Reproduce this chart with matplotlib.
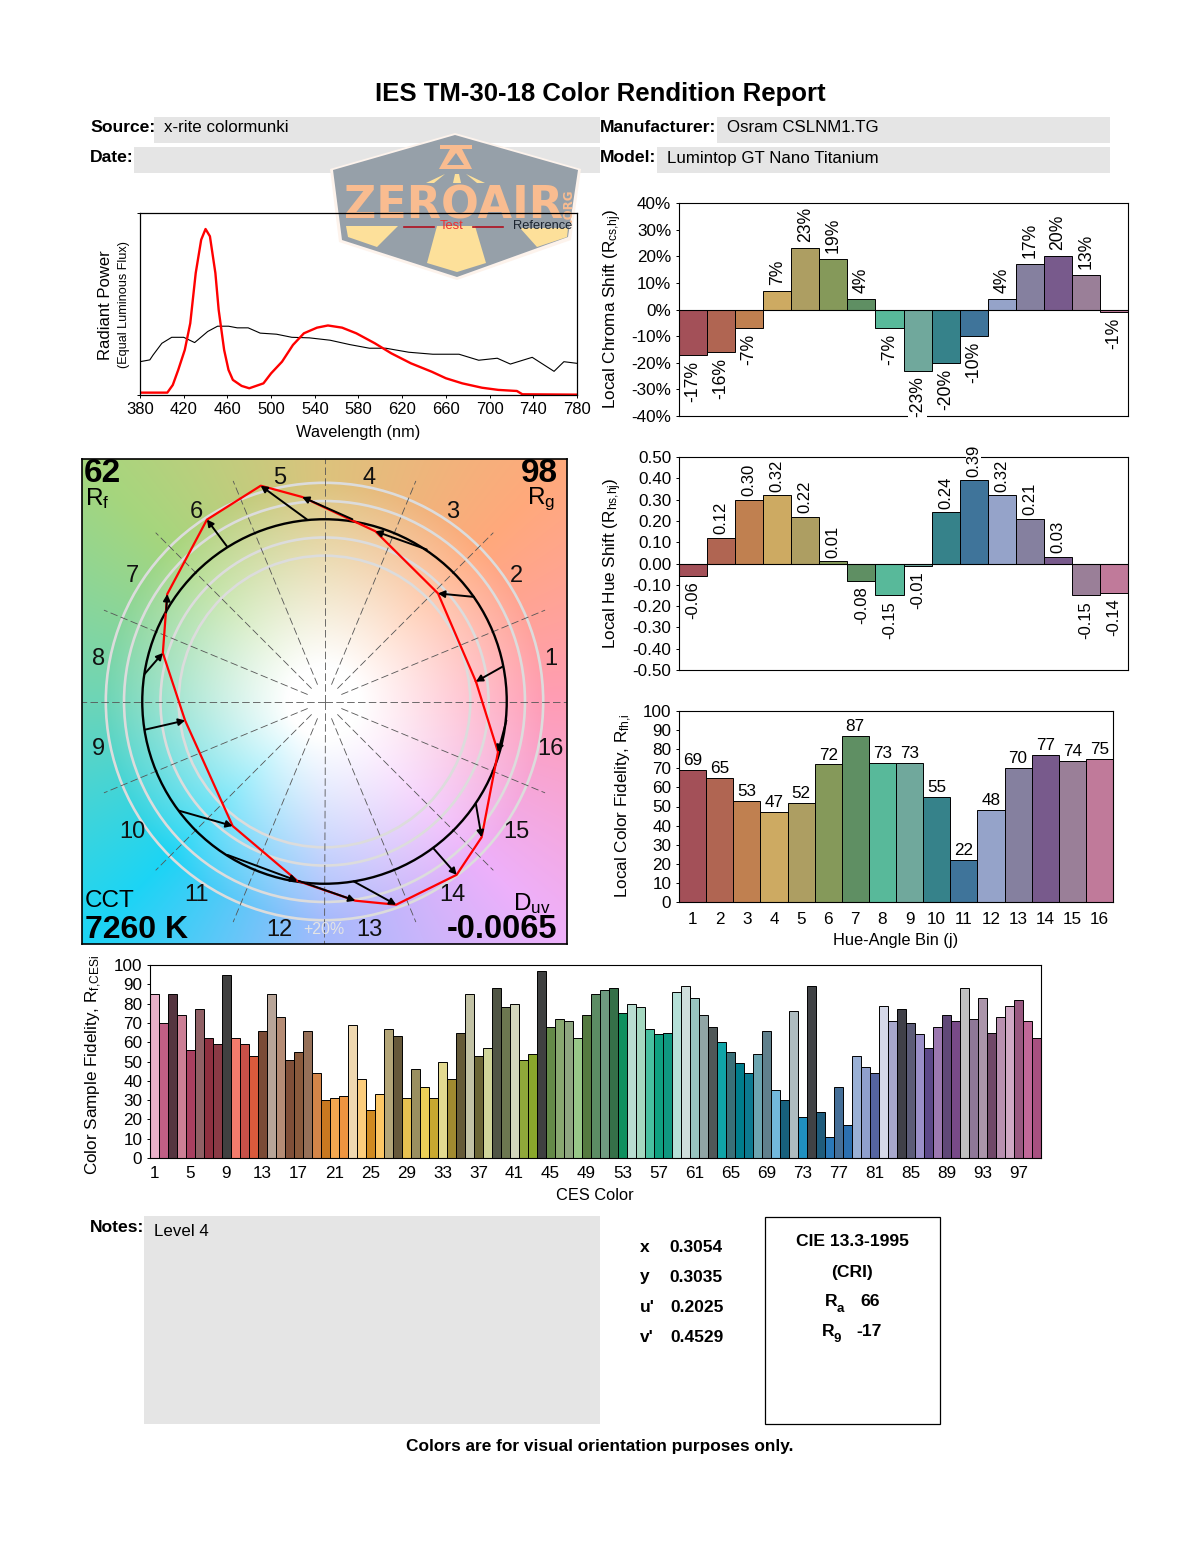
import numpy as np
import matplotlib
matplotlib.use("Agg")
import matplotlib.pyplot as plt
from matplotlib.patches import Polygon, Rectangle, Circle

plt.rcParams['font.family'] = ['Liberation Sans', 'DejaVu Sans']
plt.rcParams['mathtext.fontset'] = 'custom'
plt.rcParams['mathtext.rm'] = 'Liberation Sans'
plt.rcParams['mathtext.default'] = 'rm'
plt.rcParams['axes.linewidth'] = 0.8

# spectrum
test_wl = [380, 405, 410, 415, 421, 426, 431, 436, 440, 444, 449, 452, 457, 461, 465, 473, 480, 493, 500, 510,
           520, 530, 542, 552, 565, 578, 595, 610, 628, 647, 660, 675, 693, 708, 725, 730, 780]
test_val = [1.3, 1.3, 5.5, 13.8, 24.8, 39.4, 67, 85.3, 91.2, 87.2, 67, 46.8, 24.8, 13.8, 8.3, 5, 3.7, 6.4, 11.9, 18.3,
            27.5, 33.9, 37, 38.2, 37, 33.9, 28.4, 22.9, 17.4, 12.8, 9.2, 6.4, 4, 2.8, 2.2, 0.4, 0.2]
ref_wl = [380, 389, 392, 400, 409, 420, 430, 442, 451, 461, 469, 479, 490, 505, 519, 535, 554, 572, 590, 605,
          626, 648, 672, 690, 707, 719, 739, 759, 768, 780]
ref_val = [18.3, 19.3, 22, 28.4, 31.7, 31.7, 28.8, 34.9, 37.8, 37.8, 36.9, 36.9, 34, 33.4, 31.7, 31.4, 30.1, 27.7, 25.7, 25.7,
           23.5, 22.4, 22.4, 19.1, 20.2, 17, 20.7, 13, 18.3, 17.4]

# hue bins
bins = list(range(1, 17))
bin_colors = ['#a35058', '#b06552', '#c08050', '#cdaa62', '#ad9e62', '#85995a', '#5f8f63', '#58b99a',
              '#70a89c', '#36828a', '#3f749a', '#95a3c9', '#85809f', '#785a8c', '#9a7f98', '#c07a9a']
chroma = [-17, -16, -7, 7, 23, 19, 4, -7, -23, -20, -10, 4, 17, 20, 13, -1]
hue_shift = [-0.06, 0.12, 0.30, 0.32, 0.22, 0.01, -0.08, -0.15, -0.01, 0.24, 0.39, 0.32, 0.21, 0.03, -0.15, -0.14]
fidelity = [69, 65, 53, 47, 52, 72, 87, 73, 73, 55, 22, 48, 70, 77, 74, 75]

# vector graphic, reference circle has radius 1
ref_x = [0.980, 0.820, 0.561, 0.153, -0.095, -0.536, -0.869, -0.987, -0.987, -0.799, -0.532, -0.142, 0.160, 0.597, 0.831, 0.998]
ref_y = [0.193, 0.574, 0.834, 1.000, 0.998, 0.852, 0.488, 0.151, -0.155, -0.599, -0.842, -0.984, -0.987, -0.805, -0.564, -0.104]
test_x = [0.831, 0.623, 0.279, -0.122, -0.350, -0.645, -0.863, -0.887, -0.765, -0.504, -0.149, 0.169, 0.393, 0.725, 0.862, 0.952]
test_y = [0.109, 0.593, 0.934, 1.122, 1.184, 0.998, 0.589, 0.266, -0.104, -0.683, -0.984, -1.093, -1.115, -0.951, -0.745, -0.277]
bg_angles = [0, 45, 90, 135, 180, 225, 270, 315, 360]
bg_colors = ['#ff9db5', '#ffa97b', '#dcc37d', '#a6d67d', '#6dd5b7', '#1cd4f5', '#a5bafc', '#eeb0fa', '#ff9db5']

# CES samples
ces = [85, 70, 85, 74, 56, 77, 62, 59, 95, 62, 59, 53, 66, 85, 73, 51, 55, 66, 44, 30, 31, 32, 69, 41, 25,
       33, 67, 63, 31, 46, 37, 31, 50, 41, 65, 85, 53, 57, 88, 78, 80, 51, 54, 97, 68, 72, 71, 62, 74, 85,
       87, 88, 75, 80, 78, 67, 64, 65, 86, 89, 83, 74, 68, 60, 55, 49, 44, 54, 66, 35, 30, 76, 21, 89, 24,
       11, 37, 17, 53, 47, 44, 79, 71, 77, 70, 64, 57, 68, 74, 71, 88, 72, 83, 65, 73, 79, 82, 71, 62]
ces_colors = ['#e8b0c8', '#c05f85', '#553540', '#cc7f95', '#a84060', '#906065', '#8e3040', '#8a3a45', '#404040', '#f47c6c',
              '#c75048', '#d95a3c', '#7a4a35', '#b8a598', '#b58c75', '#804f38', '#8a5a3c', '#967058', '#d48548', '#c87820',
              '#f4a850', '#ee9540', '#efd8b0', '#fccd7c', '#d08a20', '#fcc765', '#b3a578', '#66583a', '#e6c050', '#9a8f60',
              '#ecd058', '#c8a830', '#e3da90', '#a08a30', '#655a38', '#c2c2a5', '#6a6535', '#d0d59a', '#505545', '#6c7750',
              '#d3d6bc', '#8fa83a', '#8aa82c', '#3f4040', '#648a48', '#88a870', '#8ea680', '#98c888', '#557a40', '#5c8c64',
              '#6f9a80', '#357048', '#0f905e', '#b8ddd0', '#a5d8c0', '#48c0a0', '#0fa080', '#0f9880', '#b5e0d8', '#cfdedc',
              '#98c5c0', '#90a5a5', '#505858', '#10a5a8', '#3a7078', '#007d8c', '#0c7a90', '#6ca5b0', '#60808c', '#72b8dc',
              '#17607c', '#aebcc0', '#2090c0', '#404245', '#1f5c7c', '#2a78b8', '#456f98', '#2c70b0', '#9ab0d5', '#8f9fcc',
              '#5565a0', '#d5d8e8', '#a8a8cc', '#404048', '#5c5c78', '#9a8fc8', '#5c4888', '#9c78b0', '#604878', '#784a88',
              '#c0c0c0', '#8f7898', '#ab95aa', '#704868', '#b890b0', '#cfa8c4', '#985880', '#c06898', '#a85080']

W, H = 1200, 1550
fig = plt.figure(figsize=(W / 100, H / 100), dpi=100, facecolor='white')

def box(l, t, r, b):
    return fig.add_axes([l / W, 1 - b / H, (r - l) / W, (b - t) / H], facecolor='none', zorder=2)

def full_page(z):
    a = fig.add_axes([0, 0, 1, 1], facecolor='none', zorder=z)
    a.set_xlim(0, W)
    a.set_ylim(H, 0)
    a.axis('off')
    return a

page = full_page(0)
over = full_page(5)

def txt(x, y, s, size=12.2, weight='normal', ha='left', va='center', **kw):
    # y is the centre of the glyphs, horizontal text needs a small nudge down
    dy = 2 if 'rotation' not in kw else 0
    return over.text(x, y + dy, s, fontsize=size, fontweight=weight, ha=ha, va=va, **kw)

# header boxes
grey = '#e5e5e5'
for l, t, r, b in [(154, 117, 600, 143), (134, 147, 600, 173), (717, 117, 1110, 143), (657, 147, 1110, 173), (144, 1216, 600, 1424)]:
    page.add_patch(Rectangle((l, t), r - l, b - t, color=grey, lw=0))

txt(600, 92, "IES TM-30-18 Color Rendition Report", 18.5, 'bold', ha='center')
txt(90, 126, "Source:", 12.6, 'bold')
txt(90, 156, "Date:", 12.6, 'bold')
txt(600, 126, "Manufacturer:", 12.6, 'bold')
txt(600, 156, "Model:", 12.6, 'bold')
txt(164, 126, "x-rite colormunki")
txt(727, 126, "Osram CSLNM1.TG")
txt(667, 156, "Lumintop GT Nano Titanium")

# logo watermark
page.add_patch(Polygon([(455, 133), (581, 169), (571, 240), (457, 280), (339, 242), (330, 169)], closed=True, color='#fdf3ec', lw=0))
page.add_patch(Polygon([(455, 135), (578, 170), (568, 237), (457, 277), (342, 240), (333, 170)], closed=True, color='#4c647a', alpha=0.58, lw=0))
for pts in [[(346, 226), (398, 226), (377, 247), (348, 237)],
            [(437, 226), (475, 226), (486, 263), (457, 272), (427, 263)],
            [(520, 228), (568, 228), (567, 237), (537, 247)],
            [(426, 183), (445, 174), (434, 183)], [(453, 183), (455, 174), (459, 174), (461, 183)], [(485, 183), (466, 174), (477, 183)]]:
    page.add_patch(Polygon(pts, closed=True, color='#fde09a', lw=0))
page.add_patch(Polygon([(440, 145), (472, 145), (472, 149), (462, 149), (472, 169), (439, 169), (450, 149), (440, 149)], closed=True, color='#f9bc90', lw=0))
page.add_patch(Polygon([(456, 153), (464, 165), (447, 165)], closed=True, color='#8f9ca9', lw=0))
page.text(454, 206, "ZEROAIR", fontsize=32, fontweight='bold', family='DejaVu Sans', color='#f9bc90', ha='center', va='center')
page.text(568, 205, ".ORG", fontsize=8.5, fontweight='bold', family='DejaVu Sans', color='#f9bc90', ha='center', va='center', rotation=90)

# spectrum
ax = box(140, 213, 577, 395)
ax.plot(ref_wl, ref_val, color='black', lw=0.8)
ax.plot(test_wl, test_val, color='red', lw=1.7)
ax.set_xlim(380, 780)
ax.set_ylim(0, 100)
ax.set_xticks(list(range(380, 781, 40)))
ax.set_yticks([0, 100])
ax.set_yticklabels([])
ax.tick_params(axis='x', labelsize=12, length=2, width=0.7, pad=3)
ax.tick_params(axis='y', length=2, width=0.7)
for s in ['bottom', 'top', 'left', 'right']:
    ax.spines[s].set_linewidth(0.9)
ax.plot([0.605, 0.673], [0.922, 0.922], transform=ax.transAxes, color='#b01020', lw=1.2)
ax.plot([0.762, 0.83], [0.922, 0.922], transform=ax.transAxes, color='#b01020', lw=1.2)
txt(440, 224, "Test", 9.3, color='#ee3030')
txt(513, 224, "Reference", 9.3, color='#1c2530')
txt(106, 305, "Radiant Power", 12, ha='center', rotation=90)
txt(124, 304, "(Equal Luminous Flux)", 9.1, ha='center', rotation=90)
txt(358, 431, "Wavelength (nm)", 11.8, ha='center')

# vector graphic
ax = box(81, 459, 568, 944)
lim = 243.5 / 183
grid = np.linspace(-lim, lim, 400)
gx, gy = np.meshgrid(grid, grid)
ang = np.degrees(np.arctan2(gy, gx)) % 360
rad = np.hypot(gx, gy)
rgb = np.array([matplotlib.colors.to_rgb(c) for c in bg_colors])
img = np.dstack([np.interp(ang, bg_angles, rgb[:, i]) for i in range(3)])
blend = np.clip((rad - 0.2) / 1.0, 0, 1)[:, :, None]
ax.imshow(1 - blend * (1 - img), extent=[-lim, lim, -lim, lim], origin='lower', interpolation='bilinear', zorder=0)
for r in [0.8, 0.9, 1.1, 1.2]:
    ax.add_patch(Circle((0, 0), r, fill=False, ec='#dcdcdc', lw=1.9, zorder=1))
for a in np.arange(0, 360, 22.5):
    t = np.radians(a)
    r0, r1 = (0, lim) if a % 90 == 0 else (0.1, 1.31)
    ax.plot([r0 * np.cos(t), r1 * np.cos(t)], [r0 * np.sin(t), r1 * np.sin(t)], color='#555555', lw=0.6, dashes=(9, 4), zorder=2)
ax.add_patch(Circle((0, 0), 1, fill=False, ec='black', lw=1.7, zorder=3))
ax.plot(test_x + test_x[:1], test_y + test_y[:1], color='red', lw=1.6, zorder=4)
for x0, y0, x1, y1 in zip(ref_x, ref_y, test_x, test_y):
    ax.annotate('', xy=(x1, y1), xytext=(x0, y0), zorder=5,
                arrowprops=dict(arrowstyle='-|>,head_width=0.17,head_length=0.32', color='black', lw=1.4, mutation_scale=12, shrinkA=0, shrinkB=0))
for i, b in enumerate(bins):
    t = np.radians(11.25 + 22.5 * i)
    ax.text(1.265 * np.cos(t), 1.265 * np.sin(t) - 0.012, str(b), fontsize=17, ha='center', va='center', color='#111111', zorder=6)
ax.set_xlim(-lim, lim)
ax.set_ylim(-lim, lim)
ax.set_xticks([])
ax.set_yticks([])
for s in ax.spines.values():
    s.set_linewidth(1.2)
txt(84, 472, "62", 24, 'bold')
txt(85, 497, "R$_{\\mathrm{f}}$", 17.5)
txt(558, 472, "98", 24, 'bold', ha='right')
txt(527, 497, "R$_{\\mathrm{g}}$", 17.5)
txt(85, 899, "CCT", 17.5)
txt(85, 928, "7260 K", 23, 'bold')
txt(513, 902, "D$_{\\mathrm{uv}}$", 17.5)
txt(557, 928, "-0.0065", 23.5, 'bold', ha='right')
txt(324, 927, "+20%", 11.5, ha='center', color='#e4e4e4')

# bar panels
def bar_panel(l, t, r, b, values, ylim, yticks, ylabels):
    ax = box(l, t, r, b)
    ax.bar(bins, values, width=1.0, color=bin_colors, edgecolor='black', linewidth=0.7)
    ax.set_xlim(0.5, 16.5)
    ax.set_ylim(*ylim)
    ax.set_yticks(yticks)
    ax.set_yticklabels(ylabels)
    ax.tick_params(axis='y', labelsize=12.3, length=2.5, width=0.7, pad=3)
    return ax

ax = bar_panel(679, 203, 1128, 416, chroma, (-40, 40), list(range(-40, 41, 10)), ["%d%%" % v for v in range(-40, 41, 10)])
ax.axhline(0, color='black', lw=0.8)
ax.set_xticks([])
for x, v in zip(bins, chroma):
    ax.text(x, v + (2.2 if v > 0 else -2.2), "%d%%" % v, rotation=90, fontsize=12.7, ha='center', va='bottom' if v > 0 else 'top',
            zorder=4, bbox=dict(fc='white', ec='none', pad=0.5), clip_on=False)
txt(613, 309, "Local Chroma Shift (R$_{\\mathrm{cs{,}hj}}$)", 12.3, ha='center', rotation=90)

hue_ticks = [round(-0.5 + 0.1 * i, 1) for i in range(11)]
ax = bar_panel(679, 457, 1128, 670, hue_shift, (-0.5, 0.5), hue_ticks, ["%.2f" % v for v in hue_ticks])
ax.axhline(0, color='black', lw=0.8)
ax.set_xticks([])
for x, v in zip(bins, hue_shift):
    ax.text(x, v + (0.018 if v > 0 else -0.025), "%.2f" % v, rotation=90, fontsize=12, ha='center', va='bottom' if v > 0 else 'top',
            zorder=4, bbox=dict(fc='white', ec='none', pad=0), clip_on=False)
txt(613, 563, "Local Hue Shift (R$_{\\mathrm{hs{,}hj}}$)", 12.3, ha='center', rotation=90)

ax = bar_panel(679, 711, 1113, 902, fidelity, (0, 100), list(range(0, 101, 10)), [str(v) for v in range(0, 101, 10)])
ax.set_xticks(bins)
ax.tick_params(axis='x', labelsize=12.3, length=0, pad=7)
for x, v in zip(bins, fidelity):
    ax.text(x, v + 1, str(v), fontsize=12.3, ha='center', va='bottom')
txt(624, 806, "Local Color Fidelity, R$_{\\mathrm{fh{,}i}}$", 12.3, ha='center', rotation=90)
txt(896, 939, "Hue-Angle Bin (j)", 11.8, ha='center')

# CES bars
ax = box(150, 965, 1041, 1158)
ax.bar(range(1, 100), ces, width=1.0, color=ces_colors, edgecolor='black', linewidth=0.7)
ax.set_xlim(0.5, 99.5)
ax.set_ylim(0, 100)
ax.set_xticks(list(range(1, 100, 4)))
ax.set_yticks(list(range(0, 101, 10)))
ax.tick_params(axis='both', labelsize=12.3, width=0.7)
ax.tick_params(axis='x', length=0, pad=6)
ax.tick_params(axis='y', length=2.5, pad=3)
txt(94, 1065, "Color Sample Fidelity, R$_{\\mathrm{f{,}CESi}}$", 12.3, ha='center', rotation=90)
txt(595, 1194, "CES Color", 11.8, ha='center')

# notes and chromaticity
txt(90, 1226, "Notes:", 12.6, 'bold')
txt(154, 1230, "Level 4")
for y, lab, val, vx in [(1245, "x", "0.3054", 669), (1275, "y", "0.3035", 669), (1305, "u'", "0.2025", 670), (1335, "v'", "0.4529", 670)]:
    txt(640, y, lab, 12.5, 'bold')
    txt(vx, y, val, 12.5, 'bold')
page.add_patch(Rectangle((765, 1217), 175, 207, fill=False, ec='black', lw=0.9))
txt(852, 1240, "CIE 13.3-1995", 12.6, 'bold', ha='center')
txt(852, 1270, "(CRI)", 12.6, 'bold', ha='center')
txt(825, 1300, "R", 12.6, 'bold')
txt(837, 1307, "a", 9.5, 'bold')
txt(860, 1300, "66", 12.6, 'bold')
txt(822, 1330, "R", 12.6, 'bold')
txt(834, 1337, "9", 9.5, 'bold')
txt(856, 1330, "-17", 12.6, 'bold')
txt(600, 1444, "Colors are for visual orientation purposes only.", 12.4, 'bold', ha='center')

fig.savefig("out.png", dpi=100)
